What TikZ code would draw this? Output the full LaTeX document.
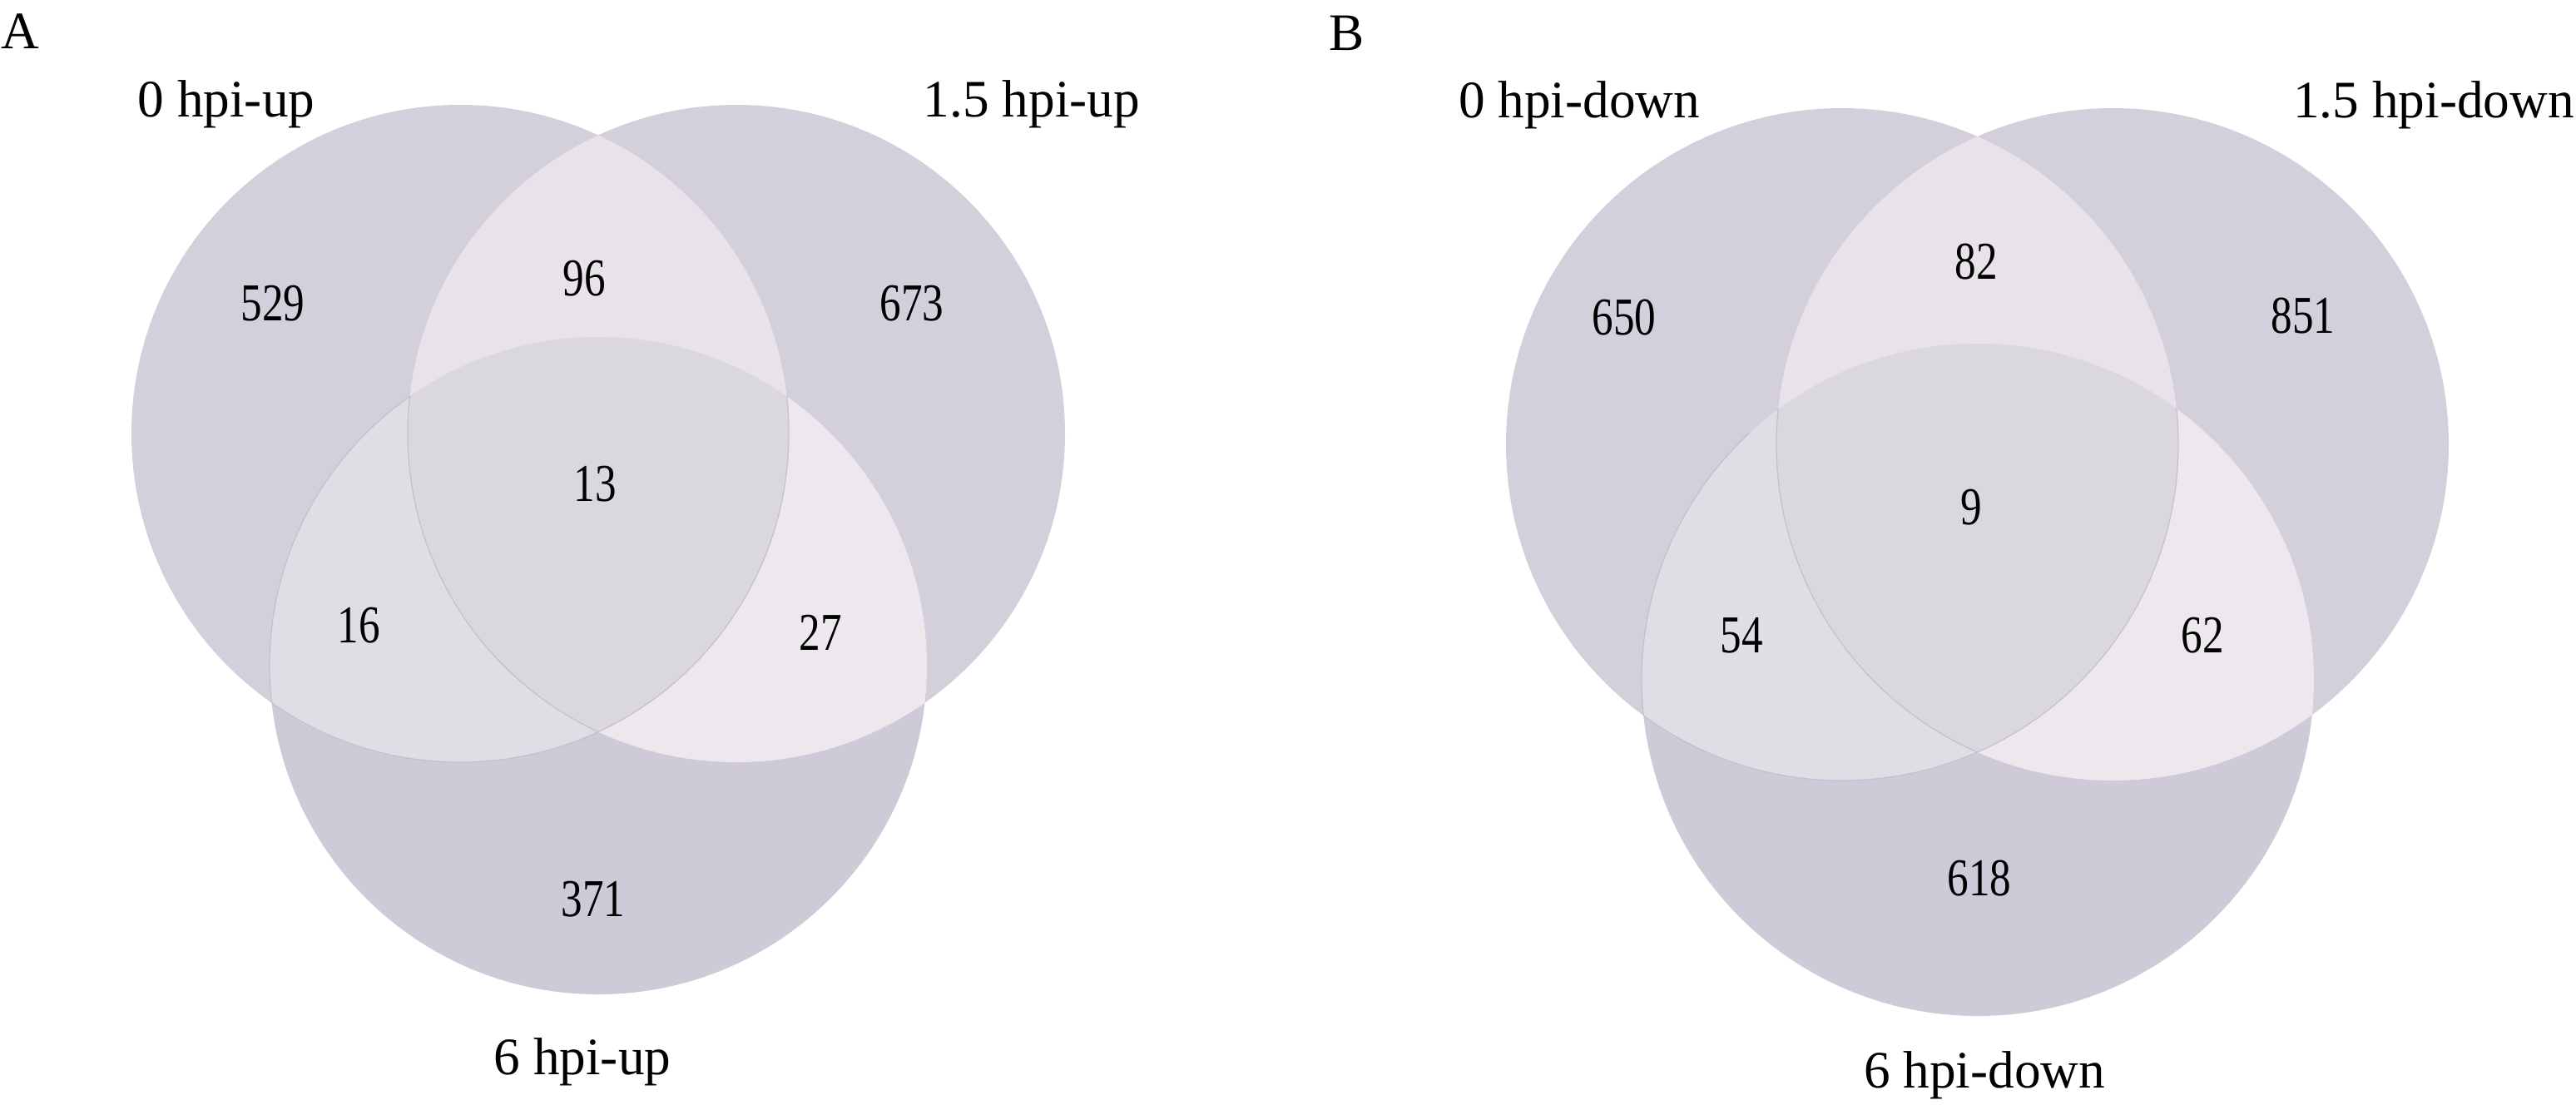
\documentclass[tikz,border=0pt]{standalone}
\usepackage{graphicx}
\usepackage{fontspec}
\setmainfont{Liberation Serif}
\definecolor{cS}{HTML}{D3D0DC}
\definecolor{cB}{HTML}{CFCAD7}
\definecolor{cLR}{HTML}{E8E3E9}
\definecolor{cLB}{HTML}{E1DDE5}
\definecolor{cRB}{HTML}{ECE8ED}
\definecolor{cC}{HTML}{DBD7DF}
\definecolor{cE}{HTML}{C4C0CF}
\newcommand{\vnum}[1]{\scalebox{0.8}[1]{#1}}
\tikzset{
  txt/.style={font=\fontsize{18}{20}\selectfont, inner sep=0pt, text=black},
  numtxt/.style={font=\fontsize{18.2}{20}\selectfont, inner sep=0pt, text=black},
  edge/.style={draw=cE, line width=0.35pt}
}
% #1 left centre, #2 right centre, #3 bottom centre, #4 radius, #5 x-limit for left arc
\newcommand{\vennpanel}[5]{%
  \fill[cS] #1 circle[radius=#4];
  \fill[cS] #2 circle[radius=#4];
  \fill[cB] #3 circle[radius=#4];
  \begin{scope}\clip #1 circle[radius=#4]; \fill[cLR] #2 circle[radius=#4]; \end{scope}
  \begin{scope}\clip #1 circle[radius=#4]; \fill[cLB] #3 circle[radius=#4]; \end{scope}
  \begin{scope}\clip #2 circle[radius=#4]; \fill[cRB] #3 circle[radius=#4]; \end{scope}
  \begin{scope}\clip #1 circle[radius=#4]; \clip #2 circle[radius=#4]; \fill[cC] #3 circle[radius=#4]; \end{scope}
  \begin{scope}\clip #3 circle[radius=#4]; \draw[edge] #1 circle[radius=#4]; \end{scope}
  \begin{scope}\clip #1 circle[radius=#4]; \clip #3 circle[radius=#4]; \draw[edge] #2 circle[radius=#4]; \end{scope}
  \begin{scope}\clip #1 circle[radius=#4]; \clip (0,0) rectangle (#5,-13.27); \draw[edge] #3 circle[radius=#4]; \end{scope}
}
\begin{document}
\begin{tikzpicture}
\useasboundingbox (0,0) rectangle (30.96,-13.27);
\fill[white] (0,0) rectangle (30.96,-13.27);
% Panel A
\coordinate (aL) at (5.53,-5.21);
\coordinate (aR) at (8.85,-5.21);
\coordinate (aD) at (7.19,-8.00);
\vennpanel{(aL)}{(aR)}{(aD)}{3.95cm}{4.93}
\node[txt] (labA) at (0.24,-0.38) {A};
\node[txt] (a0) at (2.72,-1.25) {0 hpi-up};
\node[txt] (a15) at (12.40,-1.25) {1.5 hpi-up};
\node[txt] (a6) at (7.00,-12.76) {6 hpi-up};
\node[numtxt] (n529) at (3.28,-3.65) {\vnum{529}};
\node[numtxt] (n96) at (7.02,-3.35) {\vnum{96}};
\node[numtxt] (n673) at (10.96,-3.65) {\vnum{673}};
\node[numtxt] (n13) at (7.15,-5.82) {\vnum{13}};
\node[numtxt] (n16) at (4.31,-7.52) {\vnum{16}};
\node[numtxt] (n27) at (9.86,-7.60) {\vnum{27}};
\node[numtxt] (n371) at (7.13,-10.81) {\vnum{371}};
% Panel B
\coordinate (bL) at (22.14,-5.34);
\coordinate (bR) at (25.39,-5.34);
\coordinate (bD) at (23.77,-8.17);
\vennpanel{(bL)}{(bR)}{(bD)}{4.04cm}{21.03}
\node[txt] (labB) at (16.19,-0.40) {B};
\node[txt] (b0) at (18.98,-1.26) {0 hpi-down};
\node[txt] (b15) at (29.25,-1.26) {1.5 hpi-down};
\node[txt] (b6) at (23.85,-12.92) {6 hpi-down};
\node[numtxt] (n650) at (19.52,-3.82) {\vnum{650}};
\node[numtxt] (n82) at (23.75,-3.15) {\vnum{82}};
\node[numtxt] (n851) at (27.68,-3.80) {\vnum{851}};
\node[numtxt] (n9) at (23.69,-6.10) {\vnum{9}};
\node[numtxt] (n54) at (20.93,-7.64) {\vnum{54}};
\node[numtxt] (n62) at (26.47,-7.64) {\vnum{62}};
\node[numtxt] (n618) at (23.79,-10.56) {\vnum{618}};
\end{tikzpicture}
\end{document}
